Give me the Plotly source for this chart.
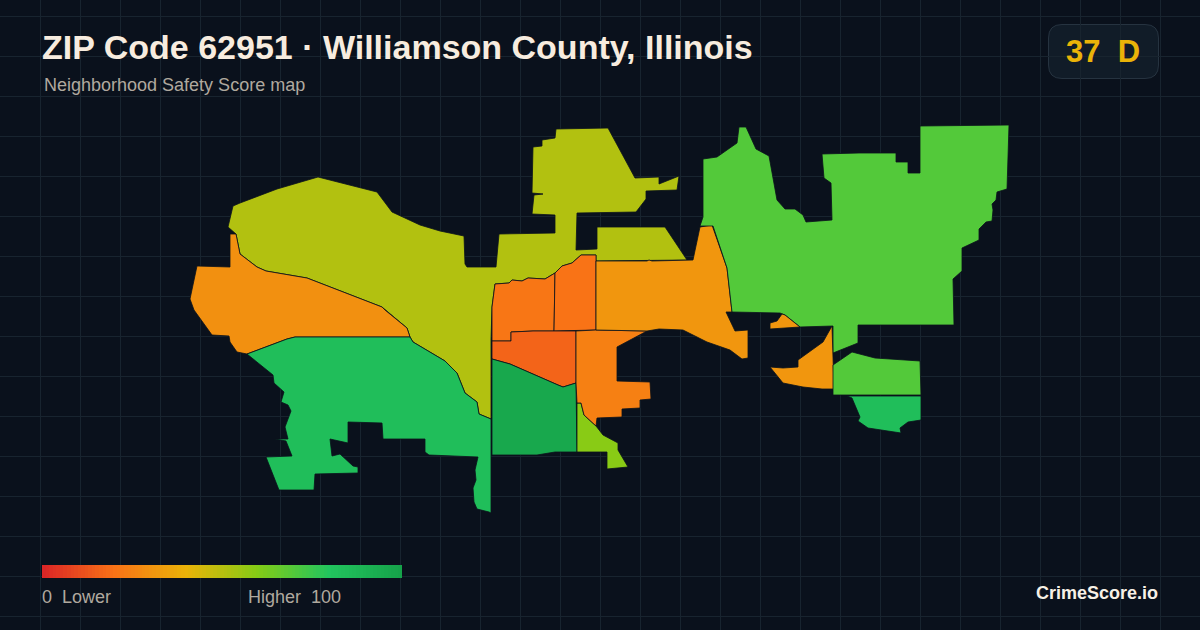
import plotly.graph_objects as go
from plotly.colors import sample_colorscale

north_band = [(228, 227), (233, 206), (240, 203), (277, 189), (318, 177), (377, 192), (392, 212), (420, 225), (440, 231),
              (464, 236), (465, 264), (467, 267), (496, 267), (499, 234), (555, 233), (555, 215), (532, 214), (534, 195),
              (543, 194), (532, 193), (533, 147), (542, 146), (542, 140), (555, 138), (556, 129), (608, 128), (635, 178),
              (659, 177), (659, 184), (679, 176), (677, 190), (646, 191), (646, 199), (636, 212), (577, 213), (576, 250),
              (597, 249), (597, 227), (665, 227), (687, 260), (596, 261), (596, 255), (581, 255), (572, 263), (562, 266),
              (555, 273), (545, 279), (528, 278), (522, 281), (512, 280), (509, 283), (495, 284), (492, 307), (491, 340),
              (491, 419), (479, 414), (477, 402), (465, 393), (457, 373), (445, 361), (413, 342), (410, 337), (407, 328),
              (385, 310), (382, 307), (307, 278), (266, 271), (257, 267), (240, 254), (236, 234)]
west_orange = [(230, 234), (236, 234), (240, 254), (257, 267), (266, 271), (307, 278), (382, 307), (385, 310), (407, 328),
               (410, 337), (295, 337), (287, 339), (247, 354), (237, 352), (230, 342), (229, 336), (212, 335), (203, 322),
               (194, 310), (190, 299), (197, 266), (230, 267)]
southwest_green = [(247, 354), (287, 339), (295, 337), (410, 337), (413, 342), (445, 361), (457, 373), (465, 393), (477, 402),
                   (479, 414), (491, 419), (491, 513), (489, 512), (477, 509), (474, 502), (473, 488), (476, 480), (475, 470),
                   (478, 457), (455, 456), (429, 455), (425, 452), (425, 439), (383, 439), (382, 423), (348, 422), (348, 443),
                   (330, 439), (332, 456), (340, 454), (353, 466), (358, 467), (358, 473), (315, 474), (314, 490), (279, 490),
                   (266, 457), (292, 456), (286, 441), (275, 439), (288, 439), (285, 427), (291, 411), (288, 405), (281, 402),
                   (284, 392), (274, 383), (273, 375)]
center_left = [(495, 284), (509, 283), (512, 280), (522, 281), (528, 278), (545, 279), (555, 273), (554, 331), (533, 331),
               (511, 332), (511, 341), (492, 341), (492, 307)]
center_right = [(555, 273), (562, 266), (572, 263), (581, 255), (596, 255), (596, 330), (554, 331)]
center_deep = [(492, 341), (511, 341), (511, 332), (533, 331), (554, 331), (576, 331), (576, 383), (563, 387), (558, 385),
               (510, 364), (492, 359)]
south_green = [(492, 359), (510, 364), (558, 385), (563, 387), (576, 383), (577, 452), (555, 452), (537, 455), (492, 455)]
south_lime = [(577, 403), (581, 403), (584, 415), (596, 426), (603, 435), (618, 443), (618, 450), (628, 467), (607, 469),
              (607, 452), (577, 452)]
mid_orange = [(576, 331), (596, 330), (647, 331), (617, 347), (617, 381), (650, 382), (651, 399), (640, 400), (640, 408),
              (622, 409), (622, 417), (597, 418), (596, 426), (584, 415), (581, 403), (577, 403), (576, 383)]
east_orange = [(596, 261), (647, 261), (649, 260), (652, 261), (693, 260), (700, 227), (712, 225), (727, 268), (732, 312),
               (726, 312), (735, 331), (748, 330), (748, 358), (742, 359), (730, 350), (707, 342), (683, 330), (659, 329),
               (647, 331), (596, 330)]
east_green = [(700, 226), (703, 217), (703, 159), (717, 157), (737, 143), (739, 127), (746, 127), (756, 149), (769, 156),
              (777, 200), (785, 209), (795, 209), (803, 215), (806, 222), (832, 220), (831, 183), (824, 178), (822, 154),
              (859, 153), (896, 153), (896, 162), (908, 162), (908, 173), (920, 173), (920, 126), (1009, 125), (1007, 189),
              (997, 192), (996, 200), (992, 204), (993, 210), (992, 221), (986, 222), (979, 229), (979, 240), (962, 248),
              (962, 271), (953, 279), (954, 325), (858, 325), (858, 343), (833, 353), (833, 326), (800, 327), (785, 315),
              (780, 313), (732, 312), (727, 268), (713, 226)]
sliver_orange = [(770, 323), (777, 321), (782, 314), (785, 315), (800, 327), (770, 329)]
southeast_orange = [(832, 326), (833, 360), (834, 389), (822, 389), (803, 387), (783, 383), (770, 367), (783, 368), (798, 367),
                    (798, 360), (823, 342)]
southeast_green = [(833, 365), (852, 352), (875, 358), (920, 361), (921, 395), (833, 395)]
far_south_green = [(847, 396), (921, 396), (921, 420), (908, 422), (900, 428), (901, 433), (868, 428), (858, 421), (860, 417),
                   (852, 398)]

regions = [north_band, west_orange, southwest_green, center_left, center_right, center_deep, south_green, south_lime,
           mid_orange, east_orange, east_green, sliver_orange, southeast_orange, southeast_green, far_south_green]
scores = [51, 29, 84, 21, 20, 16, 97, 59, 24, 31, 70, 31, 31, 70, 84]

legend_scores = list(range(0, 101))
score_scale = [[0.0, "#dc2626"], [0.2, "#f97316"], [0.4, "#eab308"], [0.6, "#84cc16"], [0.8, "#22c55e"], [1.0, "#16a34a"]]

BG = "#0a111c"
GRID = "#18242f"
FONT = "Liberation Sans"
BAR_LEFT = 42
BAR_WIDTH = 360

fig = go.Figure()

for outline, score in zip(regions, scores):
    xs = [p[0] for p in outline] + [outline[0][0]]
    ys = [p[1] for p in outline] + [outline[0][1]]
    fig.add_trace(go.Scatter(
        x=xs, y=ys, mode="lines", fill="toself",
        fillcolor=sample_colorscale(score_scale, score / 100)[0],
        line=dict(color=BG, width=0.8),
        hoverinfo="skip", showlegend=False,
    ))

# legend bar, x0 is the centre of the first cell
cell = BAR_WIDTH / len(legend_scores)
fig.add_trace(go.Heatmap(
    z=[legend_scores], x0=BAR_LEFT + cell / 2, dx=cell, y0=571.5, dy=13,
    zmin=0, zmax=100, colorscale=score_scale, showscale=False, hoverinfo="skip",
))

fig.update_layout(
    width=1200, height=630,
    margin=dict(l=0, r=0, t=0, b=0),
    paper_bgcolor=BG, plot_bgcolor=BG,
    font=dict(family=FONT),
    xaxis=dict(range=[0, 1200], tick0=0.5, dtick=40, showgrid=True, gridcolor=GRID, gridwidth=1,
               zeroline=False, showticklabels=False, ticks="", fixedrange=True),
    yaxis=dict(range=[630, 0], tick0=16.5, dtick=40, showgrid=True, gridcolor=GRID, gridwidth=1,
               zeroline=False, showticklabels=False, ticks="", fixedrange=True),
)

# header covers the grid, badge sits on top of it
fig.add_shape(type="rect", x0=0, x1=1200, y0=0, y1=96, fillcolor=BG, line_width=0, layer="below")
fig.add_shape(type="path", layer="below", fillcolor="#111c28", line=dict(color="#263340", width=1),
              path="M 1062 24.5 L 1145 24.5 Q 1158.5 24.5 1158.5 38 L 1158.5 65 Q 1158.5 78.5 1145 78.5 "
                   "L 1062 78.5 Q 1048.5 78.5 1048.5 65 L 1048.5 38 Q 1048.5 24.5 1062 24.5 Z")


def label(text, x, y, size, color, anchor="left", bold=False):
    fig.add_annotation(
        text=f"<b>{text}</b>" if bold else text, x=x, y=y, xref="x", yref="y",
        xanchor=anchor, yanchor="middle", showarrow=False, borderpad=0,
        font=dict(family=FONT, size=size, color=color),
    )


label("ZIP Code 62951 · Williamson County, Illinois", 41, 47, 34, "#f7ecdf", bold=True)
label("Neighborhood Safety Score map", 43, 85, 18, "#b0a99f")
label("37\u00a0\u00a0D", 1103, 51, 31, "#eab308", anchor="center", bold=True)
label("0\u00a0\u00a0Lower", 41, 596.5, 18, "#b0a99f")
label("Higher\u00a0\u00a0100", 342, 596.5, 18, "#b0a99f", anchor="right")
label("CrimeScore.io", 1159, 593, 18, "#f7f0e6", anchor="right", bold=True)

fig.write_html("out.html", config=dict(displayModeBar=False),
               post_script=f"document.body.style.margin='0';document.body.style.background='{BG}';")
